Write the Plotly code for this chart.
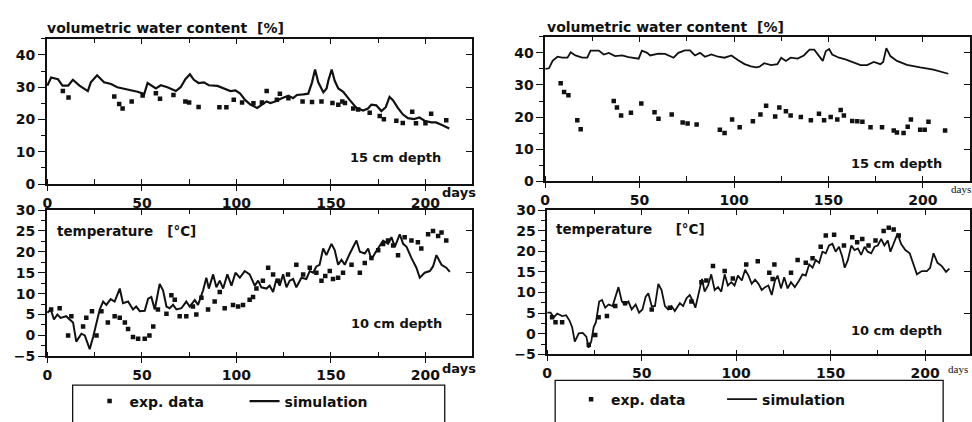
import plotly.graph_objects as go

# ---------------- data ----------------
# left column: volumetric water content, 15 cm depth
wcL_sim_day = [0, 2, 5.6, 8, 11, 13.5, 17, 21.4, 23, 26.3, 30, 33.7, 37, 42.5, 47.7, 50.4, 51, 53, 55.6, 57.4, 60, 63.5, 68, 70.5, 73, 75.4, 77.5, 80, 82.8, 85.4, 90, 94, 96.8, 99.5, 102, 104.7, 107.4, 111, 113.5, 116, 118, 120.5, 124, 127.5, 130, 132, 135.4, 138, 140, 141.6, 143.3, 146, 147.7, 148.6, 150.4, 152, 153.9, 156.5, 160, 163.5, 167, 169.6, 171.4, 174, 176.7, 179, 181, 182.8, 185.4, 188, 190.7, 194, 196.8, 199.5, 203, 205.6, 209, 212.6]
wcL_sim_val = [30.5, 33, 32.5, 30.5, 30.5, 32.3, 30.5, 28.8, 31.5, 33.7, 31.5, 31, 30, 29.4, 28.6, 28.1, 27.4, 31.3, 30.3, 29.6, 30.6, 30, 28.8, 30, 32.5, 34, 32.3, 31.3, 31.5, 30.6, 30.4, 29.6, 28.8, 29, 28, 26, 24.6, 23.6, 24.6, 25.6, 25.1, 25.6, 26.6, 27.4, 26.6, 27.6, 27.8, 28, 31.5, 35.5, 31.5, 28.4, 29.6, 32, 35.5, 32, 29.6, 28.6, 26, 23.6, 22.8, 23.4, 24.6, 24.4, 22.6, 23.8, 27, 26, 23.6, 21.6, 20.4, 20.1, 20.6, 19.6, 19.1, 19.1, 18.2, 17.2]
wcL_exp_day = [8.2, 11.2, 35.4, 38, 39.8, 44.6, 50.4, 57.4, 59.6, 66.7, 73, 75, 80, 91, 94.7, 98.6, 103, 109, 113.5, 116, 121.4, 123, 127.5, 135, 140, 145, 150.8, 153.9, 156, 157.4, 161.8, 164.4, 170.5, 175.8, 178, 184.6, 188, 193, 195, 200, 203, 211]
wcL_exp_val = [28.8, 26.8, 27.1, 24.8, 23.4, 25.6, 27.4, 28.1, 26.4, 27.6, 25.6, 25.3, 23.9, 23.8, 23.8, 26.1, 25.3, 25, 25.3, 28.8, 26.1, 28, 26.6, 25.6, 25.4, 25.6, 25.1, 24.6, 25.6, 25.1, 23.4, 23.1, 22.1, 21.1, 20.1, 19.6, 18.9, 22.4, 18.8, 18.8, 21.8, 19.8]

# left column: temperature, 10 cm depth
tL_sim_day = [0, 1.8, 3.5, 5.3, 7, 10, 11.8, 13.6, 15.3, 18, 19.8, 22.4, 24.2, 26, 27.7, 29.5, 31.2, 33.5, 35.6, 38.3, 40, 42.7, 45.3, 47, 48.9, 51.5, 53.3, 55, 56.8, 59.4, 61.2, 63, 64.7, 66.5, 68.3, 70.9, 73.5, 75.3, 78, 79.7, 82.4, 84.1, 85.4, 87.7, 89.4, 91.2, 93, 95.2, 97.4, 99.5, 101.8, 104.4, 107, 109.7, 111.5, 113.2, 115.9, 117.6, 119.4, 121.2, 122.9, 124.7, 126.5, 128.2, 130, 131.7, 134.4, 137, 138.8, 140.6, 142.3, 144, 145.9, 147.6, 150.3, 152, 153.8, 155.6, 157.3, 160, 163.5, 165.3, 167.9, 169.7, 171.4, 173.2, 175, 177.6, 180.2, 182, 183.8, 186.4, 188.2, 190, 192.6, 195.2, 197, 199.6, 202.3, 204, 205.8, 208.5, 211, 212.9]
tL_sim_val = [5.4, 6.2, 3.8, 5, 4.2, 4.6, 3.8, 3.1, -1.5, 0.4, 0, -3.3, -0.4, 3.1, 6.2, 8.1, 7.3, 8.7, 8.1, 11.2, 7.7, 8.1, 6.2, 6.9, 5.8, 5.9, 8.8, 9.2, 6.2, 12.3, 10.8, 6.9, 6.5, 7.3, 6.2, 6.5, 8.1, 6.9, 8.5, 7.3, 10.8, 13.8, 11.2, 14.6, 11.5, 13.1, 11.2, 14.6, 11.9, 15, 13.8, 15.4, 14.6, 11.9, 13.1, 11.5, 11.2, 11.9, 10.4, 13.5, 11.9, 14.6, 11.5, 13.1, 13.5, 11.5, 13.8, 13.5, 15.4, 15, 16.5, 16.9, 20.8, 19.2, 21.9, 20.4, 16.9, 18.1, 16.9, 19.6, 22.7, 20, 19.6, 20.8, 18.1, 19.6, 20.8, 22.7, 21.9, 23.5, 21.2, 24.2, 21.9, 21.2, 18.5, 16.2, 13.8, 15, 15.4, 16.5, 19.2, 16.9, 16.2, 15.2]
tL_exp_day = [2, 6.5, 11, 12.7, 18.9, 20.6, 23.6, 26, 28.6, 32, 35.6, 38.3, 41, 42.7, 45.3, 48, 51.5, 54, 56, 58.5, 63, 65.6, 67.4, 70, 73.5, 77, 78.8, 81.5, 85, 88.5, 91.2, 93.8, 98.2, 100.9, 103.5, 107, 108.8, 110.6, 114, 116.8, 119.4, 122, 127.3, 131.7, 135.3, 138.8, 142.3, 145, 147, 149.4, 151.1, 153.8, 156.4, 160.9, 165.3, 167.9, 171.4, 175, 177.6, 180.2, 182.9, 185.5, 189, 192.6, 196, 197.8, 201.4, 204, 206.7, 208.5, 211]
tL_exp_val = [6.2, 6.5, 0, 4.6, 2.1, 4.2, 5.8, 0, 5.8, 3.1, 4.6, 4.2, 3.1, 1.5, -0.4, -0.8, -0.8, 0, 2.1, 6.2, 5.2, 9.6, 8.5, 4.6, 4.6, 6.9, 5, 9, 6.2, 8.1, 10.4, 6.5, 7.3, 6.9, 7.3, 8.5, 9.2, 11.2, 13.1, 16.2, 14.6, 13.1, 14.6, 16.9, 14.6, 16.2, 15, 13.1, 14.2, 15.4, 13.5, 13.8, 15, 16.9, 15, 17.3, 18.5, 20.4, 21.9, 22.7, 21.5, 19.2, 23.5, 22.7, 22.3, 20.8, 24.2, 25, 23.8, 24.6, 22.7]

# right column: volumetric water content, 15 cm depth
wcR_sim_day = [0, 2, 3.9, 6.5, 9, 11.8, 13.5, 16, 19.6, 22.3, 24, 28.4, 31, 33.7, 37, 40.7, 44.2, 49.5, 51.2, 54, 55.6, 60, 63.5, 68, 70.5, 74, 76.7, 79.3, 82, 84.6, 88, 91.6, 95, 98.6, 102, 105.6, 109, 111.8, 113.5, 116, 119.6, 123, 125, 127.5, 130, 133.7, 137, 140, 142.5, 145, 147, 148.6, 150.4, 152, 155.6, 159, 163.5, 167, 170.5, 174, 177.5, 179, 180.7, 182.8, 186.3, 191.6, 198.6, 205.6, 213.5]
wcR_sim_val = [35, 35.2, 37.5, 38.8, 38.5, 38.5, 40.2, 39.2, 38.5, 38.5, 40.7, 40.7, 39.5, 40, 39, 39.2, 38.7, 38.2, 40.7, 40, 39.2, 39.8, 39.7, 38.5, 40, 40.8, 40.8, 39.2, 40, 38.8, 39.5, 38.8, 38.5, 39.2, 37.8, 36.5, 35.8, 35.5, 35.7, 36.8, 36.2, 36.5, 38.5, 37.5, 38.5, 38.2, 39.2, 41, 41, 39, 37.5, 40.5, 41.2, 39.5, 38.5, 38, 37, 36.2, 36.2, 37.2, 36.5, 37.2, 41.5, 39, 37.5, 36.3, 35.5, 34.8, 33.5]
wcR_exp_day = [8.2, 10, 12.3, 17, 18.8, 36.3, 38, 40.2, 45.4, 50.9, 57.9, 60, 67, 72.8, 75.4, 80.2, 92.5, 95, 99, 103, 110, 114, 117, 121.8, 124, 127.5, 130, 135.4, 140.7, 145, 147.7, 151.2, 154.7, 156.5, 158.2, 162.6, 165.3, 168, 172.3, 178.4, 184.6, 186.3, 189.8, 192, 193.7, 198.6, 201, 203, 211.8]
wcR_exp_val = [30.5, 27.8, 26.8, 19, 16.2, 25, 23, 20.5, 21.3, 24.2, 21.5, 19.5, 20.8, 18.3, 18, 17.7, 16, 15, 19.2, 16.8, 18.7, 20.8, 23.5, 20.2, 23, 21.8, 20.5, 20, 19, 21, 19, 20, 19.2, 22.2, 20.5, 18.8, 18.7, 18.5, 16.8, 16.8, 15.8, 15.2, 15, 17, 19.2, 16, 16, 18.5, 15.8]

# right column: temperature, 10 cm depth
tR_sim_day = [0, 1.8, 3.5, 5.3, 7.9, 10, 11.8, 13.2, 14.6, 16.7, 18.8, 20.7, 21.9, 23.3, 24.6, 25.8, 27.5, 29, 30.7, 32.5, 34.6, 36, 37.7, 39.5, 41.2, 43, 44.7, 46.8, 48.6, 50.4, 52.1, 53.5, 55.3, 57, 58.8, 60.5, 62.3, 64, 65.8, 67.5, 70.2, 71.9, 73.7, 75.4, 77.2, 78.4, 80.2, 81.9, 83.3, 85.1, 86.8, 88.6, 90.4, 92.1, 93.9, 95.6, 97.4, 99.1, 100.9, 103, 104.7, 106.5, 108.2, 110, 111.8, 113.5, 115.3, 117, 118.8, 120.5, 121.9, 123.7, 125.4, 127.2, 129, 131, 133.3, 135.1, 136.8, 138.6, 140.4, 142.1, 143.9, 145.6, 147.4, 149.1, 150.9, 152.6, 154.4, 156.1, 157.4, 159.1, 160.9, 162.6, 164.4, 166.1, 167.9, 169.6, 171.4, 173.2, 174.9, 176.7, 178.4, 180.2, 181.6, 183.7, 185.4, 187.2, 189.5, 191.8, 193.9, 195.6, 198.2, 200.9, 202.6, 204.4, 206.5, 208.8, 211, 212.8]
tR_sim_val = [5.1, 5.1, 4, 4.9, 4.3, 4.5, 3.2, 1.6, -1.9, 0.1, 0.2, -0.7, -3.4, -1.9, 1.6, 2.8, 7.8, 8.2, 6.3, 7.1, 6.7, 8.6, 11.3, 7.8, 7.1, 7.8, 5.9, 7.1, 5.1, 5.9, 9, 9.8, 6.7, 6.7, 12.1, 10.6, 6.7, 5.9, 6.7, 5.5, 7.4, 6.7, 8.6, 9.4, 7.8, 6.3, 9.8, 13.3, 10.2, 11.7, 14.4, 10.6, 11.3, 10.2, 14.4, 11.7, 12.5, 11.7, 14.1, 12.9, 15.5, 14.1, 12.1, 13.1, 12.1, 10.6, 11.3, 11.7, 9.4, 12.9, 14.1, 11, 13.7, 11, 12.5, 11.3, 12.9, 14.4, 14.1, 16.8, 16, 17.9, 17.2, 19.9, 19.5, 21.4, 21.8, 19.9, 21.1, 18.7, 16, 17.9, 21.4, 20.3, 20.7, 19.1, 21.1, 19.9, 19.5, 21.1, 21.4, 23, 21.4, 22.6, 19.9, 22.2, 24.3, 21.8, 20.3, 19.5, 16.8, 14.4, 15.2, 15.2, 16, 19.5, 17.2, 16.4, 15, 15.8]
tR_exp_day = [2.6, 4.4, 7.9, 22, 25.4, 27.2, 31.6, 36, 41.2, 55.3, 64.9, 76.3, 81.6, 84.2, 87.7, 93.9, 98.2, 105.3, 111.4, 117.5, 119.3, 120.2, 129, 132.5, 136.8, 140.4, 144.7, 147.4, 151.8, 157, 161.4, 164, 166.7, 170, 173.7, 178, 180.7, 183.3, 186]
tR_exp_val = [4, 2.8, 2.8, -2.7, -0.3, 4, 4.3, 6.7, 7.4, 5.9, 6.3, 7.8, 12.5, 12.9, 16.4, 15.2, 13.4, 16.8, 17.6, 14.8, 13.3, 16.8, 14.8, 17.9, 17.2, 18.3, 21.1, 23.8, 24, 21.4, 23.4, 22.2, 23, 21.4, 22.6, 24.9, 25.7, 25.3, 23.8]

wc_ticks = [0, 10, 20, 30, 40]
t_ticks = [-5, 0, 5, 10, 15, 20, 25, 30]
day_ticks = [0, 50, 100, 150, 200]

# ---------------- layout helpers ----------------
W, H = 972, 422
def fx(px):
    return px / W
def fy(py):
    return 1 - py / H

INK = "#111111"
FONT = dict(family="DejaVu Sans", size=14, color=INK, weight="bold")

fig = go.Figure()

def add_panel(i, sim_d, sim_v, exp_d, exp_v, legend, show, lw):
    xa = "x" if i == 1 else f"x{i}"
    ya = "y" if i == 1 else f"y{i}"
    fig.add_trace(go.Scatter(x=exp_d, y=exp_v, mode="markers", xaxis=xa, yaxis=ya,
                             marker=dict(symbol="square", size=4.5, color=INK),
                             name="exp. data", legend=legend, showlegend=show))
    fig.add_trace(go.Scatter(x=sim_d, y=sim_v, mode="lines", xaxis=xa, yaxis=ya,
                             line=dict(color=INK, width=lw),
                             name="simulation", legend=legend, showlegend=show))

add_panel(1, wcL_sim_day, wcL_sim_val, wcL_exp_day, wcL_exp_val, "legend", True, 2.2)
add_panel(2, tL_sim_day, tL_sim_val, tL_exp_day, tL_exp_val, "legend", False, 2.0)
add_panel(3, wcR_sim_day, wcR_sim_val, wcR_exp_day, wcR_exp_val, "legend2", True, 1.8)
add_panel(4, tR_sim_day, tR_sim_val, tR_exp_day, tR_exp_val, "legend2", False, 1.8)

# panel pixel boxes: (left, right, top, bottom), x range, y range, y ticks, y minor
panels = [
    (42, 469, 32, 183, [-0.3, 224.4], [0, 45], wc_ticks, 5),
    (42, 469, 210, 362, [-0.3, 224.4], [-5, 30], t_ticks, 2.5),
    (543, 970, 30, 180, [0, 225], [0, 45], wc_ticks, 5),
    (545, 970, 210, 360, [0, 223.7], [-5, 30], t_ticks, 2.5),
]

layout = {}
for k, (l, r, t, b, xr, yr, yt, ym) in enumerate(panels, start=1):
    sx = "" if k == 1 else str(k)
    xdom = [fx(l), fx(r)]
    ydom = [fy(b), fy(t)]
    layout[f"xaxis{sx}"] = dict(domain=xdom, range=xr, anchor=f"y{sx}", tickvals=day_ticks,
                                ticks="outside", ticklen=5, tickwidth=1.3, tickcolor=INK,
                                showline=True, linecolor=INK, linewidth=1.5, mirror=True,
                                showgrid=False, zeroline=False, tickfont=FONT,
                                minor=dict(dtick=25, tick0=0, ticks="inside", ticklen=5, tickcolor=INK, tickwidth=1.2, showgrid=False))
    layout[f"yaxis{sx}"] = dict(domain=ydom, range=yr, anchor=f"x{sx}", tickvals=yt,
                                ticks="outside", ticklen=7, tickwidth=1.3, tickcolor=INK,
                                showline=True, linecolor=INK, linewidth=1.5, mirror=True,
                                showgrid=False, zeroline=False, tickfont=FONT,
                                minor=dict(dtick=ym, tick0=0, ticks="outside", ticklen=4, tickcolor=INK, tickwidth=1.1, showgrid=False))
    # mirrored inward ticks on top and right
    ox = k + 4
    layout[f"xaxis{ox}"] = dict(overlaying=f"x{sx}", side="top", anchor=f"y{sx}", range=xr,
                                tickvals=day_ticks, ticks="inside", ticklen=5, tickwidth=1.2, tickcolor=INK,
                                showticklabels=False, showgrid=False, zeroline=False, showline=False,
                                minor=dict(dtick=25, tick0=0, ticks="inside", ticklen=4, tickcolor=INK, tickwidth=1.1))
    layout[f"yaxis{ox}"] = dict(overlaying=f"y{sx}", side="right", anchor=f"x{sx}", range=yr,
                                tickvals=yt[::2] if k % 2 == 0 else yt, ticks="inside", ticklen=6, tickwidth=1.2, tickcolor=INK,
                                showticklabels=False, showgrid=False, zeroline=False, showline=False)
    fig.add_trace(go.Scatter(x=[], y=[], xaxis=f"x{ox}", yaxis=f"y{ox}", showlegend=False, hoverinfo="skip"))

fig.update_layout(**layout)

def label(text, x, y, size=14, xanchor="center", family="DejaVu Sans", weight="bold"):
    fig.add_annotation(text=text, x=fx(x), y=fy(y), xref="paper", yref="paper",
                       xanchor=xanchor, yanchor="middle", showarrow=False,
                       font=dict(family=family, size=size, color=INK, weight=weight))

NB = "\u00a0"
label("volumetric water content" + NB * 2 + "[%]", 40, 21, xanchor="left")
label("volumetric water content" + NB * 2 + "[%]", 543, 20, xanchor="left")
label("15 cm depth", 393, 155, size=13)
label("15 cm depth", 896, 162, size=13)
label("temperature" + NB * 3 + "[°C]", 50, 232, size=13.5, xanchor="left")
label("temperature" + NB * 5 + "[°C]", 552, 230, size=13.5, xanchor="left")
label("10 cm depth", 394, 328, size=13)
label("10 cm depth", 896, 335, size=13)
label("days", 456, 192, size=13)
label("days", 456, 375, size=13)
label("days", 961, 188, size=11, family="Liberation Serif", weight="normal")
label("days", 958, 375, size=11, family="Liberation Serif", weight="normal")

# legend frames (bottom edge below the picture)
fig.add_shape(type="rect", xref="paper", yref="paper", x0=fx(68), x1=fx(442), y0=fy(440), y1=fy(392),
              line=dict(color=INK, width=1.3), fillcolor="rgba(0,0,0,0)")
fig.add_shape(type="rect", xref="paper", yref="paper", x0=fx(553), x1=fx(943), y0=fy(440), y1=fy(387),
              line=dict(color=INK, width=1.3), fillcolor="rgba(0,0,0,0)")

LEGFONT = dict(family="DejaVu Sans", size=14, color=INK, weight="bold")
fig.update_layout(
    width=W, height=H, margin=dict(l=0, r=0, t=0, b=0),
    paper_bgcolor="white", plot_bgcolor="rgba(0,0,0,0)",
    legend=dict(x=fx(85), y=fy(409), xanchor="left", yanchor="middle", orientation="h",
                bgcolor="rgba(0,0,0,0)", borderwidth=0, font=LEGFONT, entrywidth=110, itemwidth=30),
    legend2=dict(x=fx(569), y=fy(407), xanchor="left", yanchor="middle", orientation="h",
                 bgcolor="rgba(0,0,0,0)", borderwidth=0, font=LEGFONT, entrywidth=106, itemwidth=30),
)

fig.write_html("out.html")
